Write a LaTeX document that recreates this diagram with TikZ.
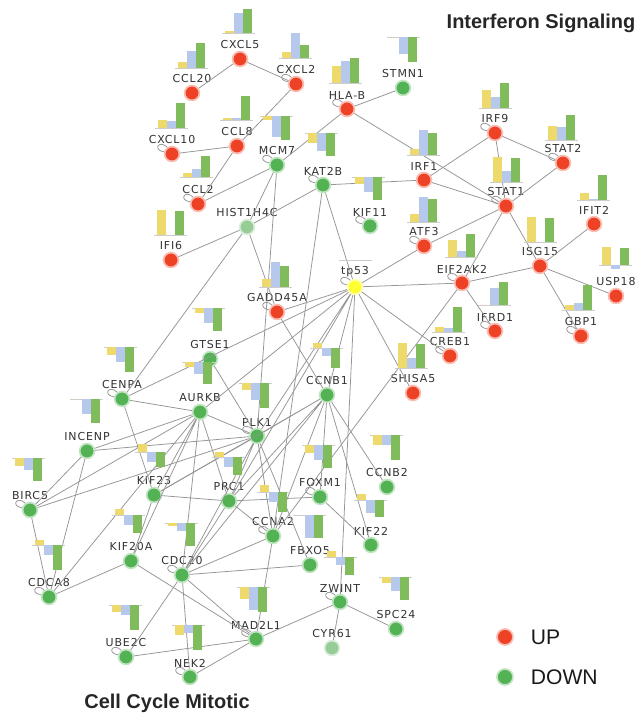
\documentclass[tikz,border=0pt]{standalone}
\usepackage{fontspec}
\setmainfont{Liberation Sans}
\newfontfamily\genefont[LetterSpace=8]{DejaVu Sans}
\usetikzlibrary{positioning}
\definecolor{upred}{RGB}{238,66,38}
\definecolor{dngreen}{RGB}{82,178,84}
\definecolor{palegreen}{RGB}{150,205,150}
\definecolor{tpyellow}{RGB}{255,255,50}
\definecolor{edgegray}{RGB}{150,150,150}
\definecolor{labelgray}{RGB}{50,50,50}
\definecolor{baryel}{RGB}{238,218,108}
\definecolor{barblu}{RGB}{182,200,236}
\definecolor{bargrn}{RGB}{128,188,92}
\definecolor{barbase}{RGB}{205,205,205}
\newcommand{\genebars}[5]{%
  \draw[barbase, line width=0.4pt] (#1-3,#2) -- ++(33,0);
  \fill[baryel] (#1,#2) rectangle ++(9,{-(#3)});
  \fill[barblu] (#1+9,#2) rectangle ++(9,{-(#4)});
  \fill[bargrn] (#1+18,#2) rectangle ++(9,{-(#5)});
}

\begin{document}
\begin{tikzpicture}[x=0.025cm, y=-0.025cm, label distance=0pt,
  every label/.style={font=\genefont\fontsize{7.8}{8}\selectfont, text=labelgray, inner sep=1pt}]
                    \tikzstyle{gene} = [circle, inner sep=0pt, minimum size=0.37cm, line width=1.2pt]
                    \tikzstyle{upgene} = [gene, fill=upred, draw=upred!35]
                    \tikzstyle{downgene} = [gene, fill=dngreen, draw=dngreen!35]
                    \tikzstyle{palegene} = [gene, fill=palegreen, draw=palegreen!35]
                    \tikzstyle{tpgene} = [gene, fill=tpyellow, draw=tpyellow!35]
                    \tikzstyle{edge} = [draw=edgegray, line width=0.55pt]
                    \tikzstyle{title} = [font=\bfseries\fontsize{14.2}{16}\selectfont, text=black!85, anchor=base]
                    \tikzstyle{legend} = [font=\fontsize{15}{17}\selectfont, text=black!90, inner sep=0pt]
                    \useasboundingbox (0,0) rectangle (638,713);
                    % interferon side
                    \node[upgene, label=CXCL5] (cxcl5) at (240,59) {};
                    \node[upgene, label=CCL20] (ccl20) at (192,93) {};
                    \node[upgene, label=CXCL2] (cxcl2) at (296,84) {};
                    \node[upgene, label=HLA-B] (hlab) at (347,109) {};
                    \node[upgene, label=CXCL10] (cxcl10) at (172,154) {};
                    \node[upgene, label=CCL8] (ccl8) at (237,146) {};
                    \node[upgene, label=CCL2] (ccl2) at (198,204) {};
                    \node[upgene, label=IFI6] (ifi6) at (171,260) {};
                    \node[upgene, label=IRF9] (irf9) at (495,133) {};
                    \node[upgene, label=STAT2] (stat2) at (563,163) {};
                    \node[upgene, label=IRF1] (irf1) at (424,180) {};
                    \node[upgene, label=STAT1] (stat1) at (506,206) {};
                    \node[upgene, label=IFIT2] (ifit2) at (594,224) {};
                    \node[upgene, label=ATF3] (atf3) at (424,246) {};
                    \node[upgene, label=ISG15] (isg15) at (540,266) {};
                    \node[upgene, label=EIF2AK2] (eif2ak2) at (462,283) {};
                    \node[upgene, label=USP18] (usp18) at (616,296) {};
                    \node[upgene, label=GADD45A] (gadd45a) at (277,312) {};
                    \node[upgene, label=IFRD1] (ifrd1) at (495,331) {};
                    \node[upgene, label=GBP1] (gbp1) at (581,336) {};
                    \node[upgene, label=CREB1] (creb1) at (450,356) {};
                    \node[upgene, label=SHISA5] (shisa5) at (413,393) {};
                    \node[tpgene, label=tp53] (tp53) at (355,287) {};
                    % cell cycle side
                    \node[downgene, label=STMN1] (stmn1) at (403,88) {};
                    \node[downgene, label=MCM7] (mcm7) at (277,165) {};
                    \node[downgene, label=KAT2B] (kat2b) at (323,185) {};
                    \node[palegene, label=HIST1H4C] (hist) at (247,227) {};
                    \node[downgene, label=KIF11] (kif11) at (370,226) {};
                    \node[downgene, label=GTSE1] (gtse1) at (210,359) {};
                    \node[downgene, label=CENPA] (cenpa) at (122,399) {};
                    \node[downgene, label=AURKB] (aurkb) at (200,412) {};
                    \node[downgene, label=CCNB1] (ccnb1) at (327,395) {};
                    \node[downgene, label=PLK1] (plk1) at (257,436) {};
                    \node[downgene, label=INCENP] (incenp) at (87,451) {};
                    \node[downgene, label=KIF23] (kif23) at (154,495) {};
                    \node[downgene, label=PRC1] (prc1) at (229,501) {};
                    \node[downgene, label=FOXM1] (foxm1) at (320,497) {};
                    \node[downgene, label=CCNB2] (ccnb2) at (387,487) {};
                    \node[downgene, label=BIRC5] (birc5) at (30,510) {};
                    \node[downgene, label=CCNA2] (ccna2) at (273,536) {};
                    \node[downgene, label=KIF22] (kif22) at (371,545) {};
                    \node[downgene, label=FBXO5] (fbxo5) at (310,565) {};
                    \node[downgene, label=KIF20A] (kif20a) at (131,561) {};
                    \node[downgene, label=CDC20] (cdc20) at (182,575) {};
                    \node[downgene, label=CDCA8] (cdca8) at (49,597) {};
                    \node[downgene, label=ZWINT] (zwint) at (340,602) {};
                    \node[downgene, label=SPC24] (spc24) at (396,629) {};
                    \node[downgene, label=MAD2L1] (mad2l1) at (256,639) {};
                    \node[palegene, label=CYR61] (cyr61) at (332,648) {};
                    \node[downgene, label=UBE2C] (ube2c) at (126,657) {};
                    \node[downgene, label=NEK2] (nek2) at (190,677) {};
                    % connectors
                    \draw[edge] (cxcl5) -- (ccl20) (cxcl5) -- (cxcl2) (cxcl2) -- (ccl8) (ccl8) -- (cxcl10) (ccl8) -- (ccl2) (ccl2) -- (mcm7);
                    \draw[edge] (mcm7) -- (hlab) (hlab) -- (stmn1) (hlab) -- (stat1) (mcm7) -- (hist) (mcm7) -- (plk1);
                    \draw[edge] (kat2b) -- (hist) (kat2b) -- (irf1) (kat2b) -- (tp53) (kat2b) -- (ccna2);
                    \draw[edge] (hist) -- (ifi6) (hist) -- (gadd45a) (hist) -- (cenpa);
                    \draw[edge] (irf1) -- (irf9) (irf1) -- (stat1) (irf9) -- (stat2) (irf9) -- (stat1) (stat2) -- (stat1);
                    \draw[edge] (stat1) -- (atf3) (stat1) -- (eif2ak2) (stat1) -- (isg15);
                    \draw[edge] (isg15) -- (eif2ak2) (isg15) -- (ifit2) (isg15) -- (usp18) (isg15) -- (gbp1);
                    \draw[edge] (eif2ak2) -- (ifrd1) (eif2ak2) -- (ccna2);
                    \draw[edge] (tp53) -- (gadd45a) (tp53) -- (atf3) (tp53) -- (eif2ak2) (tp53) -- (creb1) (tp53) -- (shisa5) (tp53) -- (zwint);
                    \draw[edge] (tp53) -- (ccnb1) (tp53) -- (plk1) (tp53) -- (aurkb) (tp53) -- (cenpa) (tp53) -- (prc1) (gadd45a) -- (ccnb1);
                    \draw[edge] (ccnb1) -- (plk1) (ccnb1) -- (prc1) (ccnb1) -- (ccna2) (ccnb1) -- (cdc20) (ccnb1) -- (kif23) (ccnb1) -- (foxm1) (ccnb1) -- (ccnb2) (ccnb1) -- (kif22);
                    \draw[edge] (aurkb) -- (cenpa) (aurkb) -- (incenp) (aurkb) -- (birc5) (aurkb) -- (cdca8) (aurkb) -- (kif23) (aurkb) -- (kif20a) (aurkb) -- (cdc20) (aurkb) -- (plk1) (aurkb) -- (prc1);
                    \draw[edge] (gtse1) -- (plk1) (incenp) -- (birc5) (incenp) -- (cdca8) (incenp) -- (plk1) (birc5) -- (cdca8) (birc5) -- (plk1);
                    \draw[edge] (cenpa) -- (kif23) (kif23) -- (prc1) (kif23) -- (kif20a) (kif23) -- (plk1) (kif20a) -- (cdca8) (kif20a) -- (mad2l1);
                    \draw[edge] (plk1) -- (prc1) (plk1) -- (ccna2) (plk1) -- (fbxo5) (plk1) -- (cdc20) (prc1) -- (foxm1) (prc1) -- (ccna2) (prc1) -- (cdc20) (foxm1) -- (kif22);
                    \draw[edge] (cdc20) -- (ccna2) (cdc20) -- (fbxo5) (cdc20) -- (mad2l1) (cdc20) -- (nek2) (cdc20) -- (ube2c);
                    \draw[edge] (ccna2) -- (mad2l1) (mad2l1) -- (ube2c) (mad2l1) -- (nek2) (mad2l1) -- (zwint) (zwint) -- (cyr61) (zwint) -- (spc24);
                    \foreach \g in {cxcl2,hlab,cxcl10,ccl2,mcm7,kat2b,irf9,stat2,stat1,atf3,eif2ak2,ifrd1,gbp1,creb1,kif11,tp53,gadd45a,cenpa,plk1,ccna2,cdc20,cdca8,zwint,mad2l1,ube2c,nek2,birc5,foxm1}
                        \draw[edge] (\g.165) .. controls +(-12,-2) and +(-8,-8) .. (\g.125);
                    % bar glyphs
                    \genebars{225}{33}{2}{20}{24}
                    \genebars{178}{68}{6}{17}{25}
                    \genebars{282}{58}{6}{25}{13}
                    \genebars{332}{83}{17}{22}{25}
                    \genebars{158}{128}{8}{7}{25}
                    \genebars{223}{120}{2}{2}{24}
                    \genebars{183}{177}{4}{8}{21}
                    \genebars{157}{235}{25}{0}{24}
                    \genebars{482}{108}{18}{11}{25}
                    \genebars{548}{140}{14}{13}{25}
                    \genebars{410}{155}{6}{25}{22}
                    \genebars{493}{182}{25}{11}{24}
                    \genebars{580}{200}{7}{1}{25}
                    \genebars{410}{222}{8}{25}{23}
                    \genebars{448}{257}{17}{6}{23}
                    \genebars{527}{242}{25}{0}{24}
                    \genebars{602}{265}{18}{-4}{17}
                    \genebars{481}{305}{0}{17}{23}
                    \genebars{565}{310}{5}{7}{25}
                    \genebars{435}{332}{5}{4}{25}
                    \genebars{398}{368}{25}{10}{24}
                    \genebars{262}{287}{8}{25}{21}
                    \genebars{342}{260}{0}{0}{0}
                    \genebars{390}{37}{0}{-17}{-25}
                    \genebars{263}{116}{-4}{-21}{-24}
                    \genebars{308}{133}{-10}{-18}{-23}
                    \genebars{355}{177}{-7}{-15}{-23}
                    \genebars{195}{308}{-5}{-15}{-23}
                    \genebars{185}{362}{-5}{-12}{-22}
                    \genebars{107}{347}{-8}{-15}{-25}
                    \genebars{73}{399}{0}{-15}{-24}
                    \genebars{15}{458}{-8}{-12}{-23}
                    \genebars{138}{452}{8}{-10}{-15}
                    \genebars{242}{383}{-7}{-17}{-25}
                    \genebars{313}{348}{5}{-8}{-20}
                    \genebars{305}{445}{-8}{-15}{-23}
                    \genebars{373}{435}{-10}{-10}{-25}
                    \genebars{215}{457}{5}{-10}{-18}
                    \genebars{260}{492}{7}{-10}{-20}
                    \genebars{296}{515}{0}{-23}{-23}
                    \genebars{357}{500}{6}{-13}{-17}
                    \genebars{327}{557}{6}{-8}{-18}
                    \genebars{382}{577}{-6}{-14}{-23}
                    \genebars{240}{587}{-12}{-23}{-25}
                    \genebars{112}{605}{-7}{-10}{-25}
                    \genebars{175}{625}{-10}{-8}{-25}
                    \genebars{168}{523}{-3}{-8}{-23}
                    \genebars{115}{515}{6}{-10}{-18}
                    \genebars{35}{545}{5}{-10}{-25}
                    % titles and legend
                    \node[title] (ifntitle) at (541,28) {Interferon Signaling};
                    \node[title] (cctitle) at (167,708) {Cell Cycle Mitotic};
                    \node[upgene, minimum size=0.4cm] (legup) at (505,637) {};
                    \node[downgene, minimum size=0.4cm] (legdown) at (505,677) {};
                    \node[legend, right=0.42cm of legup] (uptext) {UP};
                    \node[legend, right=0.42cm of legdown] (downtext) {DOWN};
                \end{tikzpicture}
\end{document}
